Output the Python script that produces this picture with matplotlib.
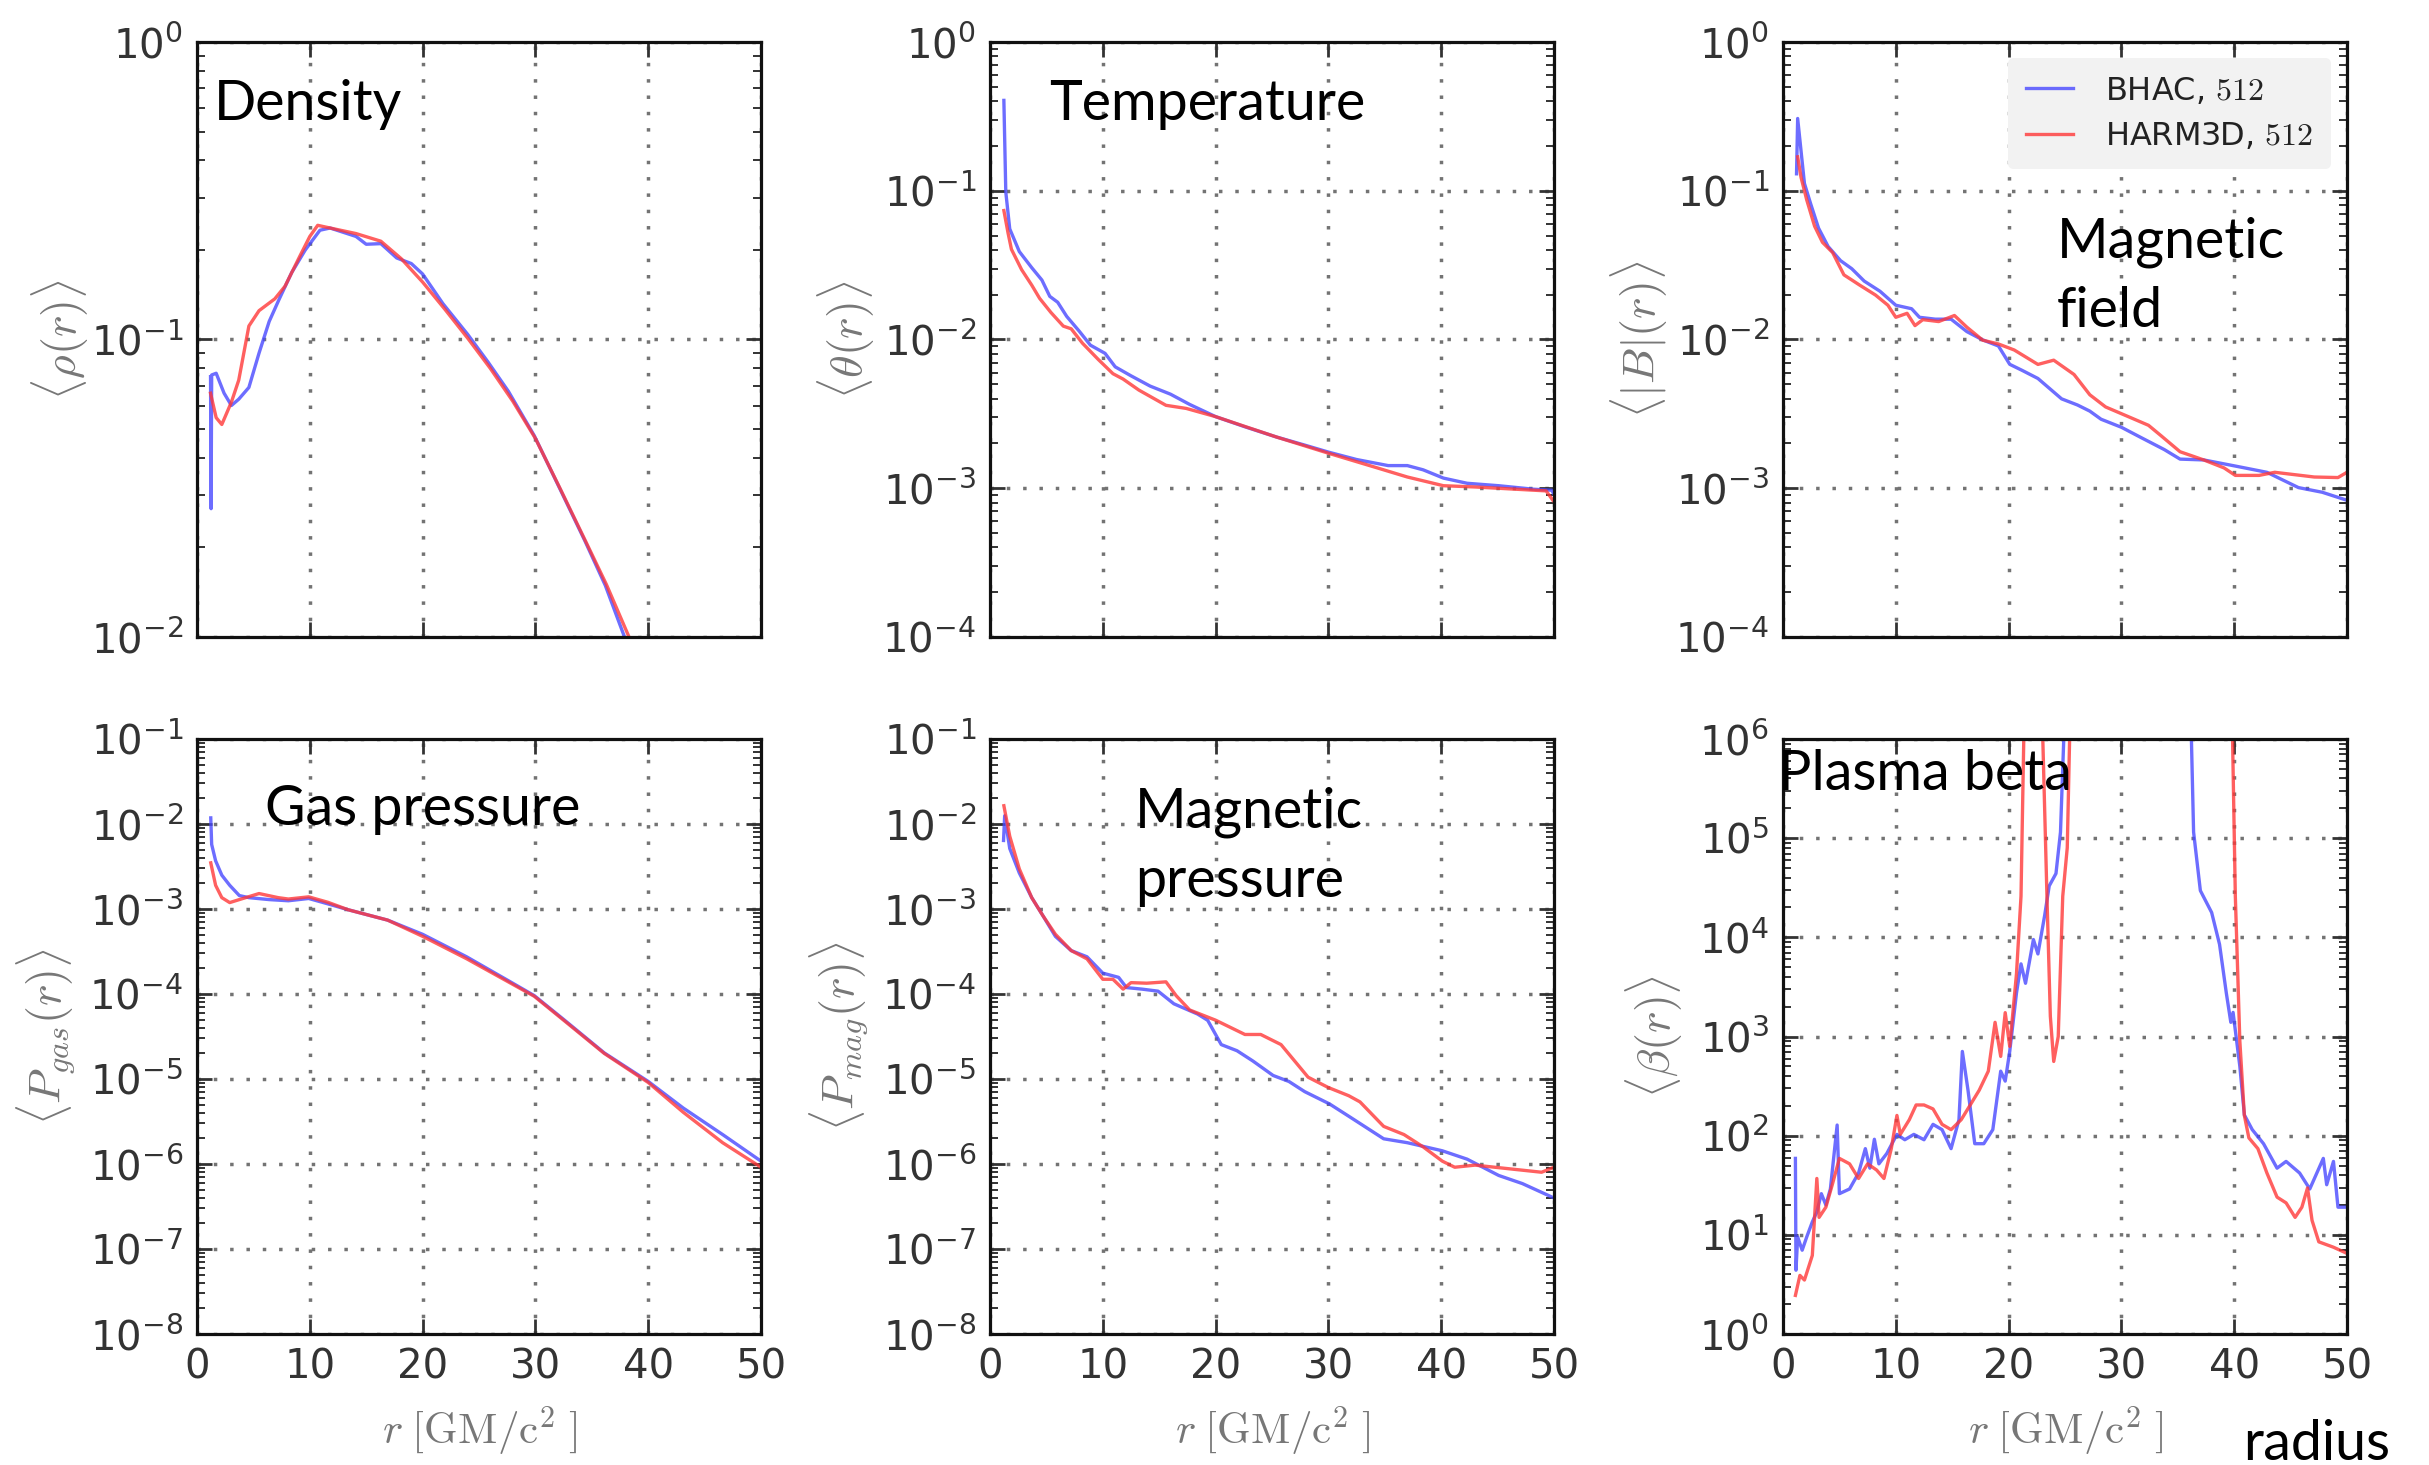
import numpy as np
import matplotlib
matplotlib.use("Agg")
import matplotlib.pyplot as plt
from matplotlib.ticker import LogLocator, NullFormatter, FixedLocator

# ---------------- data ----------------
# Density
rho_bhac_r = [1.2, 1.25, 1.3, 1.7, 2.4, 3.05, 3.7, 4.6, 5.5, 6.4, 7.3, 8.4, 9.6, 10.9, 11.8, 14.1, 15.0, 16.3,
              17.7, 19.0, 20.0, 21.8, 24.0, 25.8, 27.6, 29.9, 32.1, 34.4, 36.2, 37.9, 38.5]
rho_bhac_v = [0.075, 0.027, 0.076, 0.077, 0.066, 0.060, 0.063, 0.069, 0.090, 0.115, 0.137, 0.168, 0.20, 0.233,
              0.237, 0.222, 0.209, 0.21, 0.188, 0.18, 0.166, 0.132, 0.104, 0.084, 0.067, 0.0475, 0.0319, 0.021,
              0.0149, 0.0100, 0.0088]
rho_harm_r = [1.2, 1.7, 2.2, 3.05, 3.7, 4.6, 5.5, 6.9, 7.8, 9.1, 10.0, 10.7, 11.8, 14.1, 16.3, 18.1, 20.0, 22.0,
              24.0, 26.0, 28.0, 30.0, 32.2, 34.5, 36.3, 38.3, 39.0]
rho_harm_v = [0.066, 0.0546, 0.0518, 0.0616, 0.073, 0.111, 0.125, 0.137, 0.151, 0.19, 0.222, 0.242, 0.237,
              0.227, 0.214, 0.187, 0.156, 0.126, 0.101, 0.080, 0.062, 0.0465, 0.0315, 0.0208, 0.0150, 0.0100,
              0.0088]

# Temperature
th_bhac_r = [1.23, 1.4, 1.75, 2.6, 3.7, 4.6, 5.3, 6.0, 6.8, 7.9, 8.9, 10.2, 11.1, 12.5, 14.2, 16.0, 17.7, 20.0,
             22.6, 25.4, 27.9, 30.0, 32.5, 35.3, 37.0, 38.4, 40.2, 42.3, 45.1, 48.2, 49.8, 50.0]
th_bhac_v = [0.405, 0.098, 0.0554, 0.039, 0.0304, 0.0251, 0.0195, 0.0178, 0.0143, 0.0114, 0.00916, 0.00807,
             0.00655, 0.0057, 0.00486, 0.00429, 0.00366, 0.00303, 0.00259, 0.00221, 0.00195, 0.00175, 0.00156,
             0.00142, 0.00142, 0.00133, 0.00117, 0.00108, 0.00104, 0.000985, 0.00097, 0.00091]
th_harm_r = [1.23, 1.6, 1.9, 2.8, 3.7, 4.4, 5.4, 6.5, 7.2, 8.2, 9.6, 10.9, 11.8, 13.2, 15.6, 17.4, 20.0, 25.4,
             30.0, 34.2, 37.0, 40.2, 43.0, 49.3, 49.9]
th_harm_v = [0.0736, 0.052, 0.0404, 0.0295, 0.0232, 0.0189, 0.0152, 0.0123, 0.0118, 0.00944, 0.00734, 0.00589,
             0.00542, 0.00457, 0.00361, 0.00344, 0.00303, 0.00221, 0.00172, 0.00138, 0.00119, 0.00104, 0.00102,
             0.00096, 0.00083]

# Magnetic field
b_bhac_r = [1.2, 1.3, 1.6, 1.9, 2.45, 3.15, 4.0, 5.1, 6.1, 7.2, 8.6, 10.0, 11.4, 12.1, 13.5, 14.9, 16.3, 17.7,
            19.1, 20.1, 21.2, 22.6, 24.7, 26.1, 27.2, 28.2, 30.0, 31.7, 33.8, 35.2, 37.3, 40.1, 42.9, 45.7, 47.8,
            50.0]
b_bhac_v = [0.13, 0.306, 0.185, 0.112, 0.0818, 0.0561, 0.0422, 0.0339, 0.0299, 0.0247, 0.0211, 0.0170, 0.0161,
            0.0141, 0.0137, 0.0137, 0.0113, 0.00994, 0.00904, 0.00681, 0.0062, 0.00547, 0.00399, 0.00363, 0.0033,
            0.00291, 0.00257, 0.0022, 0.00182, 0.00157, 0.00155, 0.00141, 0.00128, 0.00101, 0.00094, 0.00083]
b_harm_r = [1.3, 1.6, 2.1, 2.8, 3.5, 4.4, 5.4, 6.8, 8.2, 9.3, 10.0, 11.0, 11.7, 12.4, 13.8, 15.2, 16.3, 17.7,
            19.1, 20.5, 22.6, 24.0, 25.8, 27.2, 28.6, 30.7, 32.4, 33.5, 35.2, 37.3, 39.1, 40.1, 42.2, 43.6, 47.1,
            49.2, 50.0]
b_harm_v = [0.169, 0.123, 0.087, 0.0578, 0.045, 0.0384, 0.0272, 0.0232, 0.0199, 0.017, 0.0141, 0.015, 0.0124,
            0.0136, 0.0132, 0.0145, 0.0121, 0.0099, 0.00933, 0.0085, 0.0068, 0.00726, 0.00582, 0.00425, 0.00352,
            0.00301, 0.00265, 0.00226, 0.00176, 0.00155, 0.00137, 0.00122, 0.00122, 0.00128, 0.00119, 0.00118,
            0.00128]

# Gas pressure
pg_bhac_r = [1.22, 1.3, 1.65, 2.2, 2.9, 3.75, 4.6, 6.4, 8.1, 9.9, 11.6, 13.4, 16.9, 20.0, 23.9, 27.7, 29.9, 32.6,
             36.1, 40.0, 43.1, 46.6, 50.0]
pg_bhac_v = [0.0118, 0.00575, 0.00369, 0.0025, 0.0019, 0.00144, 0.00136, 0.00129, 0.00125, 0.00133, 0.00115,
             0.00098, 0.00074, 0.000504, 0.000274, 0.000141, 9.57e-5, 4.9e-5, 2.03e-5, 9.36e-6, 4.56e-6, 2.22e-6,
             1.08e-6]
pg_harm_r = [1.22, 1.65, 2.2, 2.9, 3.75, 5.5, 7.2, 8.1, 9.9, 11.6, 13.4, 16.9, 20.0, 23.9, 29.9, 32.6, 36.1, 40.0,
             43.1, 46.6, 50.0]
pg_harm_v = [0.00349, 0.0019, 0.00136, 0.00119, 0.00129, 0.00152, 0.00136, 0.00131, 0.00139, 0.00120, 0.00098,
             0.00074, 0.000477, 0.00026, 9.4e-5, 4.8e-5, 2.0e-5, 9.1e-6, 4.07e-6, 1.78e-6, 9.16e-7]

# Magnetic pressure
pm_bhac_r = [1.2, 1.3, 1.75, 2.6, 3.7, 4.7, 5.8, 7.2, 8.6, 10.0, 11.4, 12.1, 13.5, 14.9, 16.3, 18.4, 19.3, 20.5,
             21.9, 23.3, 25.1, 26.5, 27.9, 30.1, 31.8, 33.2, 34.9, 37.0, 40.1, 42.3, 45.1, 47.2, 50.0]
pm_bhac_v = [0.0064, 0.0125, 0.00515, 0.00265, 0.00136, 0.00083, 0.000476, 0.000324, 0.000274, 0.000176,
             0.000157, 0.000119, 0.000114, 0.000108, 7.67e-5, 5.81e-5, 4.9e-5, 2.54e-5, 2.15e-5, 1.63e-5, 1.1e-5,
             9.35e-6, 7.1e-6, 5.09e-6, 3.65e-6, 2.77e-6, 1.98e-6, 1.78e-6, 1.43e-6, 1.14e-6, 7.33e-7, 5.88e-7,
             3.98e-7]
pm_harm_r = [1.23, 1.75, 2.6, 3.7, 4.7, 5.8, 7.2, 8.6, 10.0, 10.9, 11.8, 12.5, 13.9, 15.6, 16.5, 17.7, 20.0, 22.6,
             24.0, 25.8, 28.2, 30.0, 31.8, 32.8, 34.9, 36.7, 38.4, 40.1, 41.2, 43.0, 46.5, 48.9, 50.0]
pm_harm_v = [0.0164, 0.00718, 0.00296, 0.00136, 0.00083, 0.000504, 0.000324, 0.000259, 0.000149, 0.000149,
             0.000114, 0.000136, 0.000134, 0.000139, 9.57e-5, 6.49e-5, 4.92e-5, 3.34e-5, 3.34e-5, 2.54e-5,
             1.05e-5, 7.93e-6, 6.36e-6, 5.38e-6, 2.77e-6, 2.22e-6, 1.59e-6, 1.08e-6, 9.16e-7, 9.7e-7, 8.65e-7,
             8.0e-7, 9.16e-7]

# Plasma beta (values above 1e6 leave the frame)
beta_bhac_r = [1.1, 1.15, 1.3, 1.7, 2.1, 2.6, 3.0, 3.4, 3.8, 4.2, 4.8, 5.0, 5.9, 6.7, 7.3, 7.7, 8.1, 8.5, 9.2,
               10.1, 10.8, 11.6, 12.5, 13.3, 14.1, 14.9, 15.6, 15.9, 16.4, 17.0, 17.8, 18.6, 19.3, 19.7, 20.1, 20.7,
               21.1, 21.5, 22.2, 22.6, 23.2, 23.6, 24.2, 24.6, 25.2, 30.0, 36.0, 36.4, 37.0, 38.0, 38.7, 39.3, 39.7,
               39.9, 40.5, 40.9, 41.6, 42.6, 43.8, 44.6, 45.8, 46.7, 47.9, 48.2, 48.8, 49.2, 50.0]
beta_bhac_v = [59, 4.4, 9.5, 7, 9.5, 13.5, 17, 26, 20, 29, 128, 26, 29, 42, 74, 47, 92, 52, 66, 103, 91, 103, 91,
               130, 115, 74, 145, 707, 288, 83, 83, 115, 447, 355, 707, 2750, 5400, 3440, 9500, 6800, 16700, 33000,
               44000, 115000, 1e7, 1e7, 1e7, 115000, 29600, 17800, 8500, 2750, 1390, 1750, 500, 162, 115, 83, 47,
               55, 42, 29, 59, 32, 55, 19, 19]
beta_harm_r = [1.1, 1.5, 1.9, 2.6, 3.0, 3.2, 3.8, 4.4, 5.0, 5.9, 6.7, 7.5, 8.3, 8.95, 9.6, 10.1, 10.4, 11.2, 11.8,
               12.5, 13.3, 14.1, 14.9, 15.8, 16.6, 17.4, 18.2, 18.8, 19.3, 19.7, 20.1, 20.7, 21.1, 21.5, 22.8,
               23.4, 23.7, 24.0, 24.4, 24.8, 25.2, 25.6, 32.0, 39.7, 40.1, 40.5, 40.9, 41.3, 42.1, 42.9, 43.8,
               44.6, 45.4, 46.0, 46.5, 46.9, 47.5, 48.8, 50.0]
beta_harm_v = [2.45, 3.9, 3.5, 6.2, 37, 15, 19, 33, 59, 52, 37, 52, 45, 37, 74, 160, 103, 145, 204, 204, 186, 130,
               115, 145, 204, 288, 447, 1390, 630, 1740, 795, 4300, 26000, 1e7, 1e7, 26000, 1600, 560, 1000, 26000,
               80000, 1e7, 1e7, 1e7, 26000, 900, 160, 95, 74, 42, 24, 21, 15, 19, 29.7, 14, 8.5, 7.5, 6.5]

labels = ["BHAC, $512$", "HARM3D, $512$"]
ylabels = [r"$\langle\rho(r)\rangle$", r"$\langle\theta(r)\rangle$", r"$\langle|B|(r)\rangle$",
           r"$\langle P_{gas}(r)\rangle$", r"$\langle P_{mag}(r)\rangle$", r"$\langle\beta(r)\rangle$"]
ylims = [(1e-2, 1e0), (1e-4, 1e0), (1e-4, 1e0), (1e-8, 1e-1), (1e-8, 1e-1), (1e0, 1e6)]
xlabel = r"$r\;[\mathrm{GM/c^2}\;]$"
xticks = [0, 10, 20, 30, 40, 50]
titles = ["Density", "Temperature", "Magnetic\nfield", "Gas pressure", "Magnetic\npressure", "Plasma beta"]

series = [
    ((rho_bhac_r, rho_bhac_v), (rho_harm_r, rho_harm_v)),
    ((th_bhac_r, th_bhac_v), (th_harm_r, th_harm_v)),
    ((b_bhac_r, b_bhac_v), (b_harm_r, b_harm_v)),
    ((pg_bhac_r, pg_bhac_v), (pg_harm_r, pg_harm_v)),
    ((pm_bhac_r, pm_bhac_v), (pm_harm_r, pm_harm_v)),
    ((beta_bhac_r, beta_bhac_v), (beta_harm_r, beta_harm_v)),
]

# ---------------- style ----------------
plt.rcParams['font.family'] = ['DejaVu Sans']
plt.rcParams['mathtext.fontset'] = 'cm'
plt.rcParams['axes.unicode_minus'] = False

W, H = 2429, 1465
fig = plt.figure(figsize=(W / 100, H / 100), dpi=100)
fig.patch.set_facecolor('white')

col_left = [197 / W, 990 / W, 1783 / W]
ax_w = 564 / W
row_bottom = [1 - 637 / H, 1 - 1334 / H]
ax_h = 595 / H
ylabel_pads = [0, 4, 4, 9, 9, 10]

colors = ['#4848ff', '#ff3838']
axes = []
for i in range(6):
    row, col = divmod(i, 3)
    ax = fig.add_axes([col_left[col], row_bottom[row], ax_w, ax_h])
    axes.append(ax)
    for (rr, vv), c, lab in zip(series[i], colors, labels):
        ax.plot(rr, vv, color=c, lw=2.4, alpha=0.8, label=lab)
    ax.set_yscale('log')
    ax.set_xlim(0, 50)
    ax.set_ylim(*ylims[i])
    ax.xaxis.set_major_locator(FixedLocator(xticks))
    ax.yaxis.set_major_locator(LogLocator(base=10, numticks=20))
    ax.yaxis.set_minor_locator(LogLocator(base=10, subs=np.arange(2, 10), numticks=100))
    ax.yaxis.set_minor_formatter(NullFormatter())
    ax.grid(True, which='major', linestyle=(0, (1, 3.7)), color='0.45', lw=2.5)
    ax.tick_params(which='both', direction='in', top=True, right=True, colors='#333333',
                   labelcolor='#333333', labelsize=29, pad=10)
    ax.tick_params(which='major', length=11, width=2.0)
    ax.tick_params(which='minor', length=5.5, width=1.4)
    for s in ax.spines.values():
        s.set_linewidth(2.3)
        s.set_color('#111111')
    ax.set_ylabel(ylabels[i], fontsize=33, color='#777777', labelpad=ylabel_pads[i])
    if row == 0:
        ax.tick_params(labelbottom=False)
    else:
        ax.set_xlabel(xlabel, fontsize=31, color='#777777', labelpad=12)

leg = axes[2].legend(loc='upper right', fontsize=23, frameon=True, handlelength=1.5, handletextpad=1.0,
                     borderaxespad=0.5, labelspacing=0.45, borderpad=0.55)
leg.get_frame().set_facecolor('#f2f2f2')
leg.get_frame().set_edgecolor('none')
leg.get_frame().set_alpha(1.0)
for t in leg.get_texts():
    t.set_color('#222222')

# ---------------- annotations ----------------
tfont = dict(family=['Lato', 'DejaVu Sans'], fontsize=40, color='black', va='center', ha='left',
             linespacing=1.45)
fig.text(214 / W, 1 - 104 / H, titles[0], **tfont)
fig.text(1049 / W, 1 - 104 / H, titles[1], **tfont)
fig.text(2057 / W, 1 - 277 / H, titles[2], **tfont)
fig.text(265 / W, 1 - 809 / H, titles[3], **tfont)
fig.text(1135 / W, 1 - 847 / H, titles[4], **tfont)
fig.text(1778 / W, 1 - 775 / H, titles[5], **tfont)
fig.text(2243 / W, 1 - 1444 / H, "radius", **tfont)

fig.savefig("out.png", dpi=100)
